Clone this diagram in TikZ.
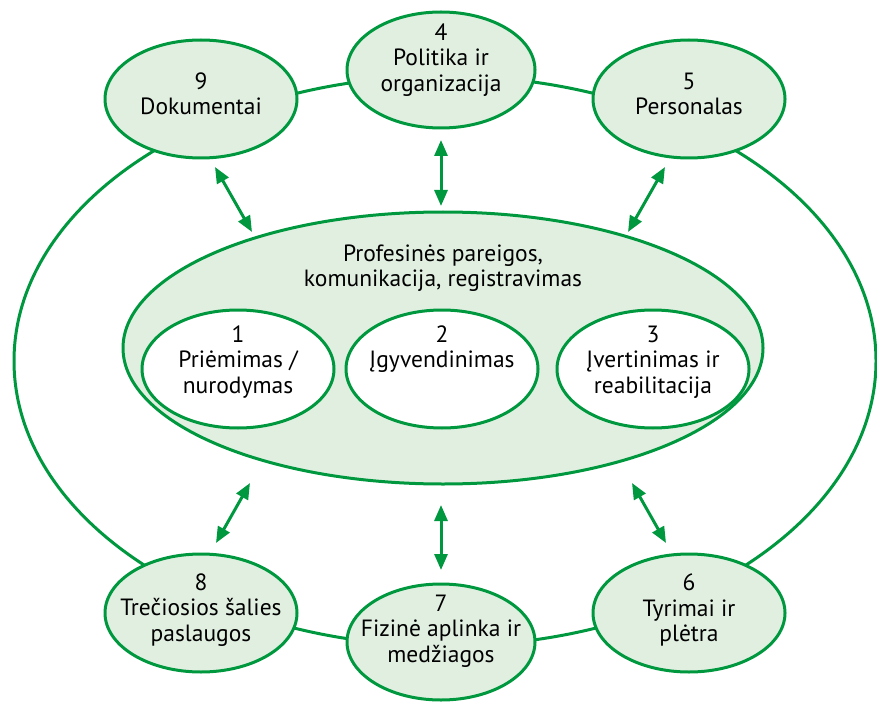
\documentclass[tikz,border=0pt]{standalone}
\usepackage{fontspec}
\setmainfont{PT Sans}
\usetikzlibrary{shapes.geometric,arrows.meta}
\definecolor{ringgreen}{HTML}{00983F}
\definecolor{softgreen}{HTML}{E1EFE1}
\tikzset{
  area/.style={ellipse, draw=ringgreen, line width=3pt, fill=softgreen, inner sep=0pt},
  outerarea/.style={area, minimum width=192pt, minimum height=118pt},
  innerarea/.style={area, fill=white, minimum width=192pt, minimum height=118pt},
  caption/.style={align=center, font=\fontsize{23.5}{25.5}\selectfont, inner sep=0pt},
  link/.style={draw=ringgreen, line width=3pt,
    {Triangle[length=16pt,width=13pt]}-{Triangle[length=16pt,width=13pt]}},
}
\begin{document}
\begin{tikzpicture}[x=1pt, y=-1pt]
  \useasboundingbox (0,0) rectangle (877,703);

  % ring joining the six outer areas
  \node[ellipse, draw=ringgreen, line width=3pt, inner sep=0pt,
        minimum width=862pt, minimum height=570pt] (ring) at (445,361) {};

  % outer areas
  \node[outerarea] (e9) at (201,99) {};
  \node[outerarea, minimum width=188pt, minimum height=116pt] (e4) at (441,70) {};
  \node[outerarea] (e5) at (689,99) {};
  \node[outerarea] (e8) at (201,613) {};
  \node[outerarea, minimum width=188pt, minimum height=116pt] (e7) at (441,642) {};
  \node[outerarea] (e6) at (689,613) {};

  \node[caption] (t9) at (201,94) {9\\Dokumentai};
  \node[caption] (t4) at (441,60) {4\\Politika ir\\organizacija};
  \node[caption] (t5) at (689,94) {5\\Personalas};
  \node[caption] (t8) at (201,610) {8\\Trečiosios šalies\\paslaugos};
  \node[caption] (t7) at (441,631) {7\\Fizinė aplinka ir\\medžiagos};
  \node[caption] (t6) at (689,610) {6\\Tyrimai ir\\plėtra};

  % central area with its three stages
  \node[area, minimum width=640pt, minimum height=272pt] (core) at (443,348) {};
  \node[caption] (tcore) at (443,268) {Profesinės pareigos,\\komunikacija, registravimas};

  \node[innerarea] (e1) at (238,369) {};
  \node[innerarea] (e2) at (442,369) {};
  \node[innerarea] (e3) at (653,369) {};
  \node[caption] (t1) at (238,362) {1\\Priėmimas /\\nurodymas};
  \node[caption] (t2) at (442,349) {2\\Įgyvendinimas};
  \node[caption] (t3) at (653,362) {3\\Įvertinimas ir\\reabilitacija};

  % two-way links between the outer areas and the central area
  \coordinate (a9) at (215,167);  \coordinate (b9) at (252,232);
  \coordinate (a4) at (441,140);  \coordinate (b4) at (441,206);
  \coordinate (a5) at (665,167);  \coordinate (b5) at (628,232);
  \coordinate (a8) at (216,543);  \coordinate (b8) at (250,483);
  \coordinate (a7) at (441,570);  \coordinate (b7) at (441,505);
  \coordinate (a6) at (666,543);  \coordinate (b6) at (632,483);
  \draw[link] (a9) -- (b9);
  \draw[link] (a4) -- (b4);
  \draw[link] (a5) -- (b5);
  \draw[link] (a8) -- (b8);
  \draw[link] (a7) -- (b7);
  \draw[link] (a6) -- (b6);
\end{tikzpicture}
\end{document}
